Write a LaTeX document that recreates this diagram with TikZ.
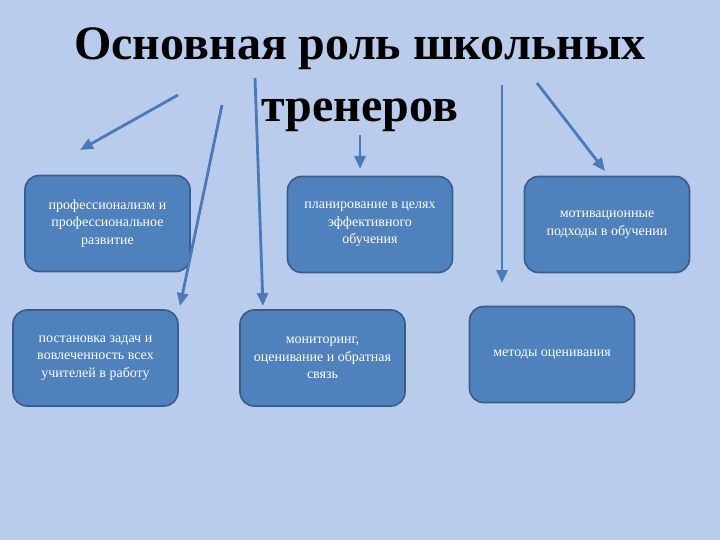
\documentclass[tikz,border=0pt]{standalone}
\usepackage{fontspec}
\setmainfont{Liberation Serif}
\usepackage{tikz}
\usetikzlibrary{arrows.meta}
\definecolor{slidebg}{RGB}{186,204,236}
\definecolor{boxblue}{RGB}{79,129,189}
\definecolor{boxedge}{RGB}{56,93,138}
\definecolor{arrowblue}{RGB}{74,122,186}
\tikzstyle{role} = [rectangle, rounded corners=14pt, minimum width=165pt, minimum height=96pt, text centered, align=center, fill=boxblue, draw=boxedge, line width=1.6pt, text=white, font=\fontsize{14}{17.5}\selectfont]
\tikzstyle{arrow} = [line width=2.8pt, arrowblue, -{Triangle[length=13pt,width=11pt]}]

\begin{document}
\begin{tikzpicture}[x=1pt, y=-1pt]
  \fill[slidebg] (0,0) rectangle (720,540);
  \useasboundingbox (0,0) rectangle (720,540);
  \node(title)[align=center, font=\bfseries\fontsize{48}{62}\selectfont] at (360,80) {Основная роль школьных\\тренеров};
  \node(a)[role] at (107.5,223.5){профессионализм и\\профессиональное\\развитие};
  \node(b)[role] at (370,224.5){планирование в целях\\эффективного\\обучения};
  \node(c)[role] at (607,224.5){мотивационные\\подходы в обучении};
  \node(d)[role] at (95.5,358){постановка задач и\\вовлеченность всех\\учителей в работу};
  \node(e)[role] at (322.5,358){мониторинг,\\оценивание и обратная\\связь};
  \node(f)[role] at (552,354.5){методы оценивания};
  % free ends of the arrows
  \coordinate(a0) at (178,95);  \coordinate(a1) at (80,150);
  \coordinate(d0) at (222,105); \coordinate(d1) at (180,306);
  \coordinate(e0) at (255,78);  \coordinate(e1) at (263,306);
  \coordinate(b0) at (360,135); \coordinate(b1) at (360,169);
  \coordinate(f0) at (502,85);  \coordinate(f1) at (502,283);
  \coordinate(c0) at (537,83);  \coordinate(c1) at (605,171);
  \draw[arrow] (a0)--(a1);
  \draw[arrow] (d0)--(d1);
  \draw[arrow] (e0)--(e1);
  \draw[arrow] (b0)--(b1);
  \draw[arrow] (f0)--(f1);
  \draw[arrow] (c0)--(c1);
\end{tikzpicture}
\end{document}
